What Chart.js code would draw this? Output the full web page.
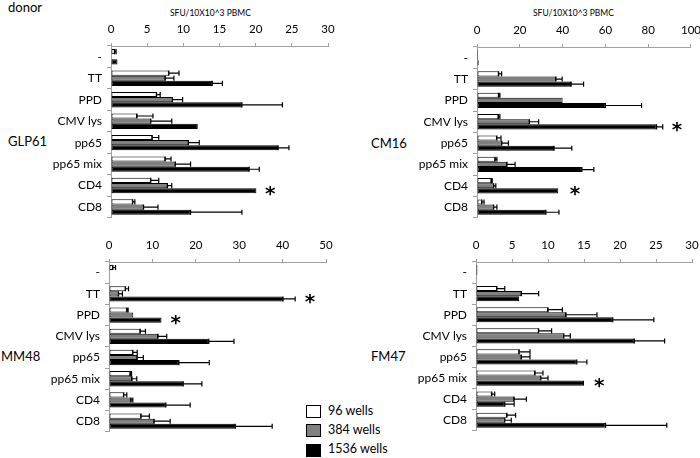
<!DOCTYPE html>
<html>
<head>
<meta charset="utf-8">
<script src="https://cdn.jsdelivr.net/npm/chart.js@4.4.1/dist/chart.umd.min.js"></script>
<style>
  html, body { margin:0; padding:0; background:#fff; }
  body { width:700px; height:458px; position:relative; overflow:hidden; font-family: Lato, "DejaVu Sans", sans-serif; color:#000; }
  canvas { position:absolute; }
  .t { position:absolute; white-space:nowrap; line-height:1; }
  .box { position:absolute; width:13px; height:11px; border:1px solid #000; }
</style>
</head>
<body>
<div class="t" style="left:8px;top:1px;font-size:13px;">donor</div>
<div class="t" style="left:170px;top:9px;font-size:8.5px;">SFU/10X10^3 PBMC</div>
<div class="t" style="left:533px;top:9px;font-size:8.5px;">SFU/10X10^3 PBMC</div>
<div class="t" style="left:8px;top:135px;font-size:13px;">GLP61</div>
<div class="t" style="left:371px;top:137px;font-size:13px;">CM16</div>
<div class="t" style="left:1px;top:350px;font-size:13px;">MM48</div>
<div class="t" style="left:371px;top:350px;font-size:13px;">FM47</div>

<div class="box" style="left:306px;top:405px;background:#fff;"></div>
<div class="box" style="left:306px;top:424px;background:#808080;"></div>
<div class="box" style="left:306px;top:444px;background:#000;"></div>
<div class="t" style="left:328px;top:405px;font-size:12.5px;">96 wells</div>
<div class="t" style="left:328px;top:424px;font-size:12.5px;">384 wells</div>
<div class="t" style="left:328px;top:443px;font-size:12.5px;">1536 wells</div>

<canvas id="c1"></canvas>
<canvas id="c2"></canvas>
<canvas id="c3"></canvas>
<canvas id="c4"></canvas>

<script>
// ---- data ----
const categories = ['-', 'TT', 'PPD', 'CMV lys', 'pp65', 'pp65 mix', 'CD4', 'CD8'];
const seriesNames = ['96 wells', '384 wells', '1536 wells'];

// GLP61 (axis 0-30)
const glp61_96   = [0.5, 8.0, 6.3, 3.6, 5.7, 7.5, 5.5, 3.0];
const glp61_96e  = [0.2, 1.4, 0.5, 2.2, 0.9, 0.8, 1.1, 0.3];
const glp61_384  = [0, 7.5, 8.5, 5.5, 10.7, 8.9, 7.8, 4.5];
const glp61_384e = [0, 1.2, 1.4, 2.9, 1.5, 2.1, 0.6, 2.0];
const glp61_1536 = [0.9, 14.0, 18.1, 12.0, 23.1, 19.1, 20.1, 11.0];
const glp61_1536e= [0, 1.4, 5.6, 0, 1.5, 1.4, 0, 7.1];
const glp61_stars = [['CD4', 22.0]];

// CM16 (axis 0-100)
const cm16_96   = [0.5, 10.1, 10.1, 10.0, 9.3, 8.5, 6.7, 2.3];
const cm16_96e  = [0, 1.4, 0.6, 0.7, 1.9, 0.8, 0.4, 1.0];
const cm16_384  = [0.5, 36.9, 40.0, 24.5, 11.6, 14.0, 7.8, 7.8];
const cm16_384e = [0, 2.9, 0, 4.3, 3.1, 3.8, 1.0, 1.5];
const cm16_1536 = [0.8, 44.0, 60.0, 83.9, 36.0, 49.0, 38.0, 32.2];
const cm16_1536e= [0, 5.8, 16.9, 2.9, 8.3, 5.6, 0, 6.1];
const cm16_stars = [['CMV lys', 93.5], ['CD4', 45.8]];

// MM48 (axis 0-50)
const mm48_96   = [0.9, 3.8, 4.1, 7.2, 5.5, 4.9, 3.4, 7.4];
const mm48_96e  = [0.6, 0.7, 0.3, 1.2, 1.0, 0.3, 0.7, 1.9];
const mm48_384  = [0, 2.2, 5.6, 11.3, 6.5, 5.3, 5.1, 10.4];
const mm48_384e = [0, 0.9, 0, 2.0, 1.4, 1.1, 0.4, 3.7];
const mm48_1536 = [0, 40.1, 12.1, 23.0, 16.1, 17.1, 13.1, 29.1];
const mm48_1536e= [0, 2.8, 0, 5.8, 7.0, 4.3, 5.6, 8.5];
const mm48_stars = [['TT', 46.3], ['PPD', 15.4]];

// FM47 (axis 0-30)
const fm47_96   = [0.2, 2.9, 10.0, 8.7, 6.0, 8.2, 2.2, 4.3];
const fm47_96e  = [0, 1.1, 2.0, 1.8, 1.5, 1.1, 0.4, 1.2];
const fm47_384  = [0.2, 6.3, 12.5, 12.2, 6.3, 9.0, 5.3, 4.0];
const fm47_384e = [0, 2.4, 4.3, 0.9, 1.2, 1.0, 1.7, 0.9];
const fm47_1536 = [0.1, 6.0, 19.0, 22.0, 14.0, 15.0, 4.0, 18.0];
const fm47_1536e= [0, 0, 5.7, 4.2, 1.4, 0, 1.3, 8.5];
const fm47_stars = [['pp65 mix', 17.1]];

// ---- drawing ----
const FONT = 'Lato, "DejaVu Sans", sans-serif';
const fills = ['#ffffff', '#808080', '#000000'];
const AXIS = '#a0a0a0';

const errorBarPlugin = {
  id: 'errbars',
  afterDatasetsDraw(chart) {
    const ctx = chart.ctx, xs = chart.scales.x, ys = chart.scales.y;
    ctx.save();
    ctx.strokeStyle = '#000';
    ctx.lineWidth = 1.2;
    chart.data.datasets.forEach((ds, di) => {
      const meta = chart.getDatasetMeta(di);
      meta.data.forEach((bar, i) => {
        const e = ds.err[i];
        if (!e) return;
        const x0 = xs.getPixelForValue(ds.data[i]);
        const x1 = xs.getPixelForValue(ds.data[i] + e);
        const y = bar.y, h = bar.height / 2;
        ctx.beginPath();
        ctx.moveTo(x0, y); ctx.lineTo(x1, y);
        ctx.moveTo(x1, y - h); ctx.lineTo(x1, y + h);
        ctx.moveTo(x0, y - h); ctx.lineTo(x0, y + h);
        ctx.stroke();
      });
    });
    // significance stars
    const stars = chart.options.plugins.stars || [];
    ctx.fillStyle = '#000';
    ctx.font = 'bold 20px "DejaVu Sans", sans-serif';
    ctx.textAlign = 'center';
    ctx.textBaseline = 'middle';
    stars.forEach(([cat, v]) => {
      const idx = categories.indexOf(cat);
      const y = ys.getPixelForValue(idx);
      ctx.fillText('*', xs.getPixelForValue(v), y + 9);
    });
    ctx.restore();
  }
};

function makePanel(id, box, xmax, step, series, errs, stars) {
  const YW = 100, XH = 30, PR = 16, PB = 12;
  const cv = document.getElementById(id);
  const cl = box.l - YW, ct = box.t - XH;
  const w = Math.round(box.r - cl + PR), h = Math.round(box.b - ct + PB);
  cv.width = w; cv.height = h;
  cv.style.left = cl + 'px'; cv.style.top = ct + 'px';
  cv.style.width = w + 'px'; cv.style.height = h + 'px';
  new Chart(cv, {
    type: 'bar',
    data: {
      labels: categories,
      datasets: series.map((d, k) => ({
        label: seriesNames[k],
        data: d,
        err: errs[k],
        backgroundColor: fills[k],
        borderColor: '#000',
        borderWidth: 1,
        borderSkipped: false,
        barPercentage: 1.0,
        categoryPercentage: 0.72
      }))
    },
    options: {
      indexAxis: 'y',
      responsive: false,
      animation: false,
      devicePixelRatio: 1,
      layout: { padding: { left: 0, top: 0, right: PR, bottom: PB } },
      plugins: { legend: { display: false }, tooltip: { enabled: false }, stars: stars },
      scales: {
        x: {
          position: 'top',
          min: 0, max: xmax,
          afterFit(s) { s.height = XH; },
          ticks: { stepSize: step, color: '#000', padding: 7, font: { family: FONT, size: 11.5 } },
          grid: { display: true, drawOnChartArea: false, drawTicks: true, tickLength: 3, color: AXIS },
          border: { display: true, color: AXIS, width: 1 }
        },
        y: {
          afterFit(s) { s.width = YW; },
          ticks: { color: '#000', padding: 5, autoSkip: false, font: { family: FONT, size: 12 } },
          grid: { display: true, offset: true, drawOnChartArea: false, drawTicks: true, tickLength: 4, color: AXIS },
          border: { display: true, color: AXIS, width: 1 }
        }
      }
    },
    plugins: [errorBarPlugin]
  });
}

makePanel('c1', { l: 110.5, r: 327, t: 46, b: 218 }, 30, 5,
  [glp61_96, glp61_384, glp61_1536], [glp61_96e, glp61_384e, glp61_1536e], glp61_stars);
makePanel('c2', { l: 477, r: 692, t: 47, b: 218 }, 100, 20,
  [cm16_96, cm16_384, cm16_1536], [cm16_96e, cm16_384e, cm16_1536e], cm16_stars);
makePanel('c3', { l: 109, r: 326, t: 262, b: 432 }, 50, 10,
  [mm48_96, mm48_384, mm48_1536], [mm48_96e, mm48_384e, mm48_1536e], mm48_stars);
makePanel('c4', { l: 476, r: 692, t: 262, b: 431 }, 30, 5,
  [fm47_96, fm47_384, fm47_1536], [fm47_96e, fm47_384e, fm47_1536e], fm47_stars);
</script>
</body>
</html>
